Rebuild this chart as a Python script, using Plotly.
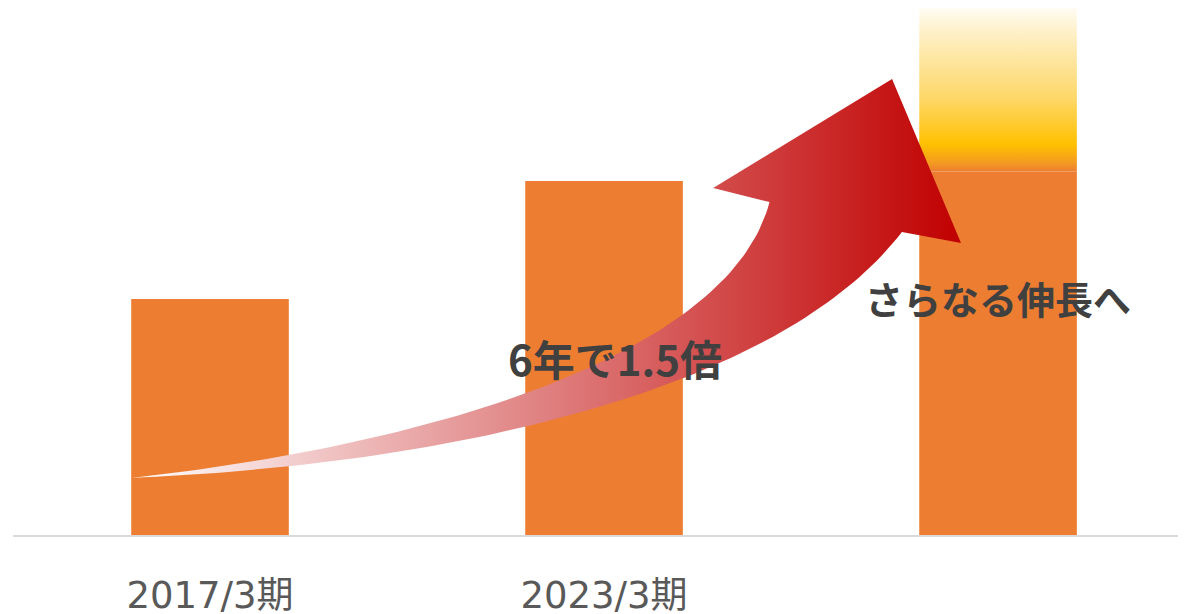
import numpy as np
import plotly.graph_objects as go

# ---- data ----
categories = ["2017/3期", "2023/3期", "   "]
values = [100, 150, 154]          # solid orange bar heights
cap_top = 225                      # top of the faded "further growth" cap on the 3rd bar
label_growth = "6年で1.5倍"
label_future = "さらなる伸長へ"

BAR_COLOR = "#ED7D31"
BAR_WIDTH = 0.4
TEXT_COLOR = "#404040"

# arrow geometry in data units (x: category index, y: value)
arrow_upper = [(-0.20, 24.2), (0.56, 38.1), (1.32, 76.3), (1.42, 141.1)]
arrow_lower = [(-0.20, 24.2), (0.61, 29.7), (1.45, 61.4), (1.756, 128.4)]
arrow_head = [(1.277, 147.0), (1.731, 193.2), (1.906, 123.7)]


def bezier(pts, n=80):
    t = np.linspace(0, 1, n)[:, None]
    p = np.array(pts, dtype=float)
    b = ((1 - t) ** 3) * p[0] + 3 * ((1 - t) ** 2) * t * p[1] + 3 * (1 - t) * t ** 2 * p[2] + t ** 3 * p[3]
    return b[:, 0], b[:, 1]


fig = go.Figure()

fig.add_trace(go.Bar(
    x=[0, 1, 2], y=values, width=BAR_WIDTH,
    marker=dict(color=BAR_COLOR, line=dict(width=0)),
    hoverinfo="skip", showlegend=False,
))

# gradient cap on 3rd bar
cx0, cx1 = 2 - BAR_WIDTH / 2, 2 + BAR_WIDTH / 2
fig.add_trace(go.Scatter(
    x=[cx0, cx1, cx1, cx0, cx0],
    y=[values[2], values[2], cap_top, cap_top, values[2]],
    mode="lines", line=dict(width=0), fill="toself",
    fillgradient=dict(type="vertical", start=values[2], stop=cap_top,
                      colorscale=[[0, "#ED7D31"], [0.05, "#F39A22"], [0.16, "#FFC000"],
                                  [0.43, "#FED766"], [0.83, "#FEF0C8"], [1, "#FFFEFA"]]),
    hoverinfo="skip", showlegend=False,
))

# curved arrow
ux, uy = bezier(arrow_upper)
lx, ly = bezier(arrow_lower)
ax = list(ux) + [p[0] for p in arrow_head] + list(lx[::-1])
ay = list(uy) + [p[1] for p in arrow_head] + list(ly[::-1])
fig.add_trace(go.Scatter(
    x=ax, y=ay, mode="lines", line=dict(width=0), fill="toself",
    fillgradient=dict(type="horizontal", colorscale=[[0, "#FFFFFF"], [1, "#C00000"]]),
    hoverinfo="skip", showlegend=False,
))

fig.add_annotation(x=1.028, y=75.4, text=label_growth, showarrow=False,
                   font=dict(family="Noto Sans CJK JP", size=42, color=TEXT_COLOR, weight="bold"))
fig.add_annotation(x=2.0, y=100.8, text=label_future, showarrow=False,
                   font=dict(family="Noto Sans CJK JP", size=38, color=TEXT_COLOR, weight="bold"))

fig.update_layout(
    width=1178, height=606,
    margin=dict(l=5, r=0, t=0, b=79, autoexpand=False),
    paper_bgcolor="white", plot_bgcolor="white",
    xaxis=dict(range=[-0.5, 2.477], tickmode="array", tickvals=[0, 1, 2], ticktext=categories,
               showgrid=False, zeroline=False, showline=True, linecolor="#D9D9D9", linewidth=2,
               ticks="", ticklabelstandoff=27, automargin=False,
               tickfont=dict(family="DejaVu Sans, Noto Sans CJK JP", size=37, color="#595959")),
    yaxis=dict(range=[0, 223.3], visible=False, showgrid=False, zeroline=False, automargin=False),
)

fig.write_html("out.html")
